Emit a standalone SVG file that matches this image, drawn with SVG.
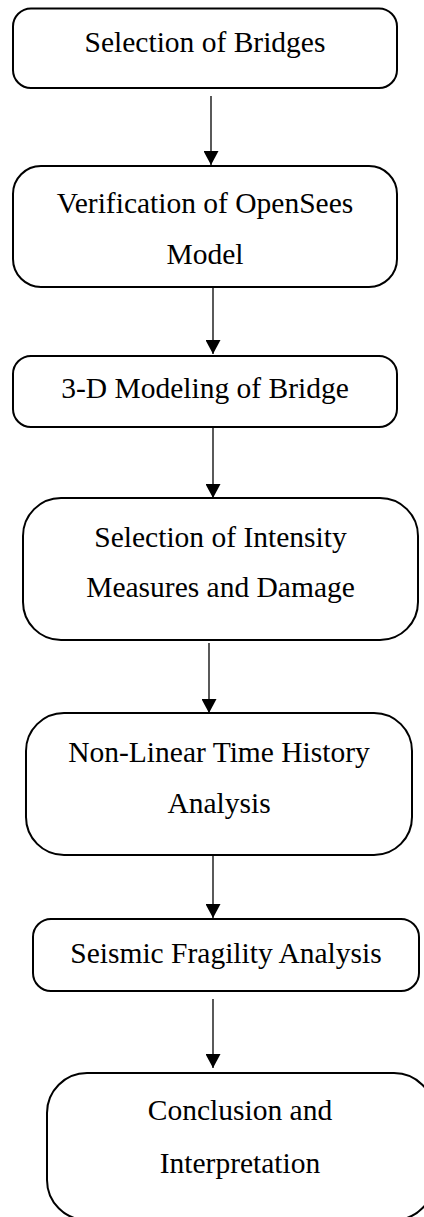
<svg xmlns="http://www.w3.org/2000/svg" width="424" height="1217" viewBox="0 0 424 1217">
  <style>
    .box { fill: #ffffff; stroke: #000000; stroke-width: 2; }
    .lbl { font-family: "Liberation Serif", "Times New Roman", serif; font-size: 29.5px; fill: #000000; text-anchor: middle; }
    .conn { stroke: #000000; stroke-width: 1.3; fill: none; marker-end: url(#arrow); }
  </style>
  <defs>
    <marker id="arrow" markerUnits="userSpaceOnUse" markerWidth="14" markerHeight="15" refX="14" refY="7.5" orient="auto">
      <path d="M0,0 L14,7.5 L0,15 Z" fill="#000000"/>
    </marker>
  </defs>
  <rect width="424" height="1217" fill="#ffffff"/>

  <g id="connectors">
    <line class="conn" x1="211" y1="96" x2="211" y2="165"/>
    <line class="conn" x1="213" y1="283" x2="213" y2="354"/>
    <line class="conn" x1="213" y1="427" x2="213" y2="498"/>
    <line class="conn" x1="209" y1="643" x2="209" y2="713"/>
    <line class="conn" x1="213" y1="848" x2="213" y2="918"/>
    <line class="conn" x1="213" y1="999" x2="213" y2="1068"/>
  </g>

  <g id="node1">
    <rect class="box" x="13" y="8.5" width="384" height="79.5" rx="18" ry="18"/>
    <text class="lbl" x="205" y="52">Selection of Bridges</text>
  </g>

  <g id="node2">
    <rect class="box" x="13" y="166" width="384" height="121" rx="28" ry="28"/>
    <text class="lbl" x="205" y="213">Verification of OpenSees</text>
    <text class="lbl" x="205" y="264">Model</text>
  </g>

  <g id="node3">
    <rect class="box" x="13" y="356" width="384" height="71" rx="18" ry="18"/>
    <text class="lbl" x="205" y="398">3-D Modeling of Bridge</text>
  </g>

  <g id="node4">
    <rect class="box" x="23" y="498" width="395" height="142" rx="38" ry="38"/>
    <text class="lbl" x="220.5" y="547">Selection of Intensity</text>
    <text class="lbl" x="220.5" y="597">Measures and Damage</text>
  </g>

  <g id="node5">
    <rect class="box" x="26" y="713" width="386" height="142" rx="38" ry="38"/>
    <text class="lbl" x="219" y="762">Non-Linear Time History</text>
    <text class="lbl" x="219" y="813">Analysis</text>
  </g>

  <g id="node6">
    <rect class="box" x="33" y="919" width="386" height="72" rx="18" ry="18"/>
    <text class="lbl" x="226" y="963">Seismic Fragility Analysis</text>
  </g>

  <g id="node7">
    <rect class="box" x="47" y="1073" width="387" height="147" rx="40" ry="40"/>
    <text class="lbl" x="240" y="1120">Conclusion and</text>
    <text class="lbl" x="240" y="1173">Interpretation</text>
  </g>
</svg>
